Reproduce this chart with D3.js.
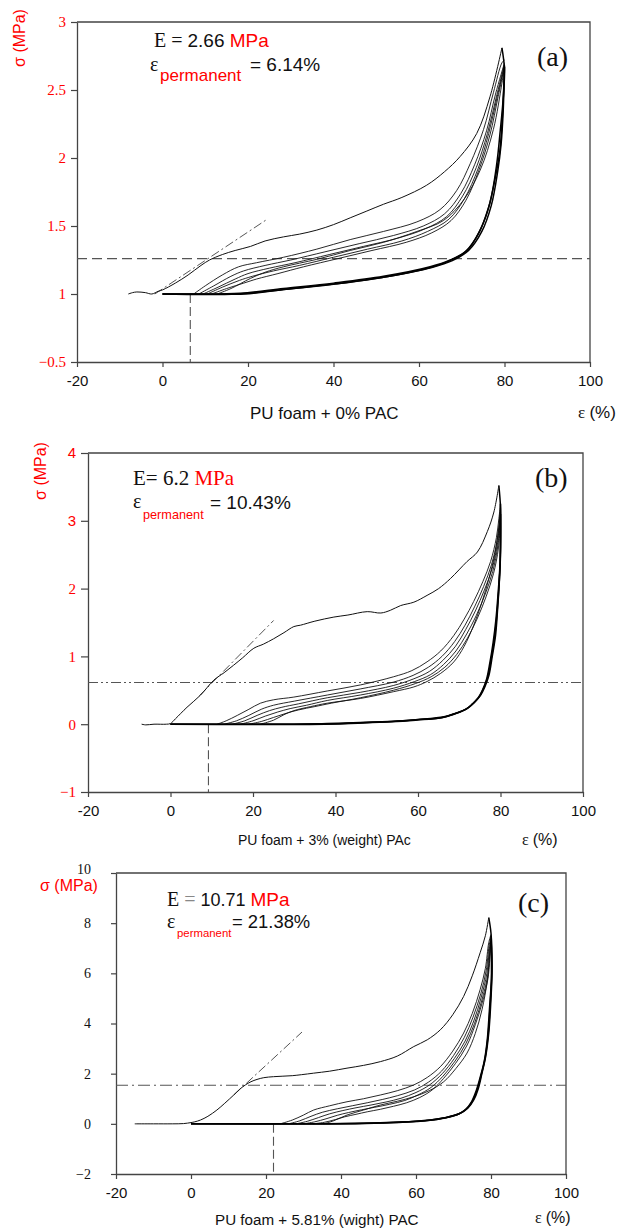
<!DOCTYPE html>
<html>
<head>
<meta charset="utf-8">
<script src="https://cdn.jsdelivr.net/npm/d3@7"></script>
<style>
body { margin: 0; background: #fff; }
svg { display: block; }
</style>
</head>
<body>
<div id="chart"></div>
<script>
let WIDTH = 628
let HEIGHT = 1228
let SERIF = '"Liberation Serif", "Times New Roman", serif'
let SANS = '"Liberation Sans", Arial, sans-serif'

// x ticks shared by all three panels
let xTicks = [-20, 0, 20, 40, 60, 80, 100]

// ---- panel (a): PU foam + 0% PAC ----
let aTicks = [0.5, 1, 1.5, 2, 2.5, 3]
let aTickLabels = ['\u22120.5', '1', '1.5', '2', '2.5', '3']
let aFirstLoad = [[-8,1.0],[-7,1.01],[-6,1.015],[-4,1.01],[-2.5,1.0],[-1,1.02],[0,1.03],[3,1.08],[6,1.14],[9,1.21],[11,1.25],[14,1.29],[17,1.32],[20.6,1.35],[24,1.39],[28.3,1.42],[32,1.44],[36.1,1.47],[40,1.51],[43.9,1.56],[47.8,1.61],[51.7,1.66],[56,1.71],[61.8,1.80],[66,1.90],[69.6,2.01],[73.5,2.18],[76.6,2.45],[79.4,2.81]]
let aReload = [
  [[7.3,1.0],[10,1.06],[14,1.14],[17.8,1.20],[22,1.23],[28.3,1.27],[36.1,1.33],[43.9,1.40],[51.7,1.46],[59.5,1.53],[64.9,1.62],[68.8,1.76],[72,1.96],[75.1,2.21],[77.4,2.48],[79.4,2.70],[80,2.72]],
  [[8.5,1.0],[12,1.06],[16,1.13],[19,1.17],[24,1.21],[30,1.25],[38,1.31],[46,1.37],[54,1.43],[61,1.50],[66,1.59],[69.8,1.74],[73,1.95],[75.8,2.2],[77.9,2.47],[80,2.70]],
  [[9.5,1.0],[13,1.05],[17,1.11],[20,1.15],[25,1.19],[31,1.23],[39,1.29],[47,1.35],[55,1.41],[61.5,1.48],[66.5,1.57],[70.2,1.72],[73.4,1.93],[76,2.18],[78.1,2.45],[80,2.69]],
  [[10.5,1.0],[14,1.05],[18,1.1],[21,1.13],[26,1.17],[32,1.21],[40,1.27],[48,1.33],[56,1.39],[62,1.46],[67,1.55],[70.6,1.70],[73.8,1.92],[76.3,2.18],[78.3,2.45],[80,2.68]],
  [[11.5,1.0],[15,1.04],[19,1.08],[22,1.11],[27,1.15],[33,1.20],[41,1.26],[49,1.32],[57,1.38],[63,1.45],[67.5,1.54],[71,1.69],[74,1.91],[76.6,2.17],[78.5,2.45],[80,2.68]],
  [[12.8,1.0],[16,1.04],[20.6,1.115],[24,1.16],[28.3,1.20],[36.1,1.255],[43.9,1.32],[51.7,1.38],[59.5,1.46],[65.7,1.54],[70.4,1.69],[74.3,1.91],[77.4,2.21],[79.4,2.55],[80,2.67]]
]
let aUnload = [
  [[79.4,2.81],[80,2.65],[79.6,2.4],[79,2.2],[78.2,1.96],[76.6,1.67],[74.3,1.47],[71.2,1.32],[67.3,1.25],[62.6,1.20],[51.7,1.13],[40,1.08],[28.3,1.04],[18.2,1.005],[7,1.0],[0,1.0]],
  [[80,2.68],[79.7,2.35],[79.2,2.1],[78.4,1.9],[76.9,1.65],[74.7,1.46],[71.6,1.32],[67.8,1.245],[63,1.195],[52,1.125],[40.5,1.075],[29,1.035],[19,1.0],[8,1.0],[0,1.0]],
  [[80,2.67],[79.5,2.3],[78.9,2.05],[78,1.88],[76.3,1.64],[74,1.45],[70.8,1.31],[66.8,1.24],[62,1.19],[51,1.12],[39.5,1.07],[27.5,1.03],[17.5,1.0],[0,1.0]]
]
let aLevel = 1.26
let aPermanent = 6.5
let aSlope = [[-1.8,1.0],[24.5,1.55]]

// ---- panel (b): PU foam + 3% (weight) PAc ----
let bTicks = [-1, 0, 1, 2, 3, 4]
let bTickLabels = ['\u22121', '0', '1', '2', '3', '4']
let bFirstLoad = [[-7,0],[-6,-0.01],[-4,0],[-1,0],[0,0.01],[1.2,0.08],[4,0.25],[7.3,0.43],[10.5,0.65],[13,0.76],[15.3,0.87],[17.5,0.98],[20.2,1.12],[22.5,1.18],[25,1.26],[27.5,1.35],[29.9,1.44],[31.5,1.46],[35,1.52],[39.6,1.58],[43,1.61],[47.7,1.66],[51,1.64],[53.3,1.68],[55.8,1.75],[59,1.8],[62.2,1.9],[65,2.0],[67.9,2.15],[71.9,2.40],[74.4,2.54],[76.8,2.84],[78.4,3.13],[79.6,3.52]]
let bReload = [
  [[11.3,0],[13.5,0.05],[16.2,0.13],[19,0.22],[21.8,0.31],[25,0.36],[29.9,0.40],[38,0.49],[46.1,0.58],[54.1,0.70],[58.5,0.79],[62.2,0.92],[65.5,1.08],[68.7,1.31],[71.2,1.55],[73.5,1.81],[75.7,2.10],[77.6,2.40],[79,2.75],[79.6,3.03],[80,3.25]],
  [[13,0],[16,0.05],[19,0.13],[22,0.22],[25,0.28],[30,0.34],[38,0.43],[46,0.52],[54,0.62],[58.8,0.72],[62.5,0.84],[65.8,1.0],[68.9,1.22],[71.4,1.46],[73.7,1.73],[75.9,2.03],[77.8,2.35],[79.2,2.72],[80,3.2]],
  [[15,0],[18,0.05],[21,0.13],[24,0.2],[27,0.25],[31,0.3],[38,0.39],[46,0.47],[54,0.57],[59,0.67],[62.8,0.78],[66,0.94],[69.1,1.15],[71.6,1.40],[73.9,1.67],[76.1,1.98],[78,2.30],[79.3,2.68],[80,3.15]],
  [[17,0],[20,0.05],[23,0.12],[26,0.18],[29,0.23],[33,0.28],[38,0.35],[46,0.43],[54,0.53],[59.2,0.63],[63,0.73],[66.2,0.88],[69.2,1.08],[71.8,1.33],[74.1,1.6],[76.3,1.92],[78.1,2.25],[79.4,2.65],[80,3.1]],
  [[19,0],[22,0.04],[25,0.1],[28,0.16],[31,0.21],[35,0.26],[39,0.31],[46,0.39],[54,0.5],[59.4,0.6],[63.2,0.7],[66.5,0.84],[69.4,1.03],[72,1.27],[74.3,1.55],[76.5,1.88],[78.3,2.22],[79.5,2.6],[80,3.08]],
  [[21.8,0],[25,0.06],[27.5,0.14],[29.9,0.2],[34,0.26],[38,0.31],[46.1,0.38],[54.1,0.48],[59,0.55],[62.2,0.63],[65.5,0.75],[68.7,0.92],[71.2,1.15],[73.5,1.46],[75.5,1.8],[77.2,2.15],[78.6,2.5],[79.6,2.89],[80,3.05]]
]
let bUnload = [
  [[79.6,3.52],[80,3.2],[80,2.6],[79.8,2.2],[79.3,1.7],[78.8,1.31],[78,1.0],[77.2,0.72],[76.2,0.55],[75.2,0.43],[73.5,0.31],[71.9,0.23],[69,0.16],[66.3,0.11],[60,0.07],[54.1,0.045],[46,0.025],[38,0.01],[30,0],[0,0]],
  [[80,3.25],[80,2.5],[79.7,2.1],[79.1,1.6],[78.5,1.25],[77.7,0.95],[76.9,0.69],[75.9,0.53],[74.9,0.41],[73.2,0.3],[71.6,0.22],[68.7,0.15],[66,0.1],[59.7,0.065],[53.8,0.04],[45.7,0.02],[37.7,0.005],[29.7,0],[0,0]],
  [[80,3.1],[79.9,2.4],[79.5,2.0],[78.9,1.55],[78.2,1.2],[77.4,0.9],[76.6,0.66],[75.6,0.5],[74.6,0.39],[72.9,0.28],[71.3,0.21],[68.4,0.14],[65.7,0.095],[59.4,0.06],[53.5,0.035],[45.4,0.015],[37.4,0],[0,0]]
]
let bLevel = 0.615
let bPermanent = 9.2
let bSlope = [[7,0.42],[25,1.53]]

// ---- panel (c): PU foam + 5.81% (wight) PAC ----
let cTicks = [-2, 0, 2, 4, 6, 8, 10]
let cTickLabels = ['\u22122', '0', '2', '4', '6', '8', '10']
let cFirstLoad = [[-15,0],[-10,0],[-5,0],[-2,0.01],[0,0.05],[1,0.08],[2.5,0.15],[4.5,0.3],[6.9,0.55],[9,0.82],[11.4,1.15],[13,1.38],[14.5,1.55],[16,1.68],[17.6,1.77],[19.4,1.84],[22,1.88],[24.5,1.9],[27,1.92],[29.5,1.96],[32.7,2.02],[37,2.1],[41.6,2.22],[46,2.33],[50.5,2.48],[55,2.7],[59.4,3.08],[63,3.35],[66.5,3.75],[69.8,4.35],[72.7,5.08],[75,5.9],[77.1,6.82],[78.5,7.5],[79.4,8.22]]
let cReload = [
  [[23.8,0],[27,0.15],[30,0.35],[32.7,0.55],[37,0.72],[41.6,0.88],[46,1.0],[50.5,1.15],[55,1.32],[59.4,1.55],[63,1.85],[66.5,2.28],[69.8,2.9],[72.7,3.62],[75,4.4],[77.1,5.35],[78.5,6.2],[79.4,7.22],[80,7.55]],
  [[26,0],[29,0.12],[32,0.3],[35,0.46],[39,0.6],[43,0.72],[47,0.84],[51,0.97],[55,1.12],[59.6,1.35],[63.3,1.66],[66.8,2.1],[70,2.72],[72.9,3.45],[75.2,4.25],[77.3,5.2],[78.7,6.1],[79.5,7.1],[80,7.45]],
  [[28,0],[31,0.1],[34,0.25],[37,0.4],[40.5,0.53],[44,0.64],[48,0.75],[52,0.87],[56,1.02],[60,1.25],[63.6,1.55],[67,2.0],[70.2,2.6],[73.1,3.3],[75.4,4.1],[77.4,5.05],[78.9,6.0],[79.6,7.0],[80,7.4]],
  [[30,0],[33,0.08],[36,0.2],[39,0.34],[42,0.45],[45.5,0.56],[49,0.66],[53,0.78],[57,0.93],[60.5,1.15],[64,1.45],[67.2,1.9],[70.4,2.5],[73.3,3.2],[75.6,4.0],[77.5,4.9],[79.1,5.9],[79.7,6.9],[80,7.3]],
  [[32.5,0],[35.5,0.06],[38.5,0.17],[41,0.28],[44,0.38],[47,0.48],[50.5,0.58],[54,0.7],[57.5,0.84],[61,1.05],[64.3,1.35],[67.3,1.8],[70.5,2.4],[73.5,3.1],[75.8,3.95],[77.6,4.8],[79.2,5.8],[79.8,6.9],[80,7.25]],
  [[35.4,0],[38,0.12],[41.6,0.35],[46,0.55],[50.5,0.75],[55,0.9],[59.4,1.08],[63.5,1.32],[67.4,1.68],[70.6,2.2],[73.6,2.82],[75.8,3.6],[77.6,4.55],[79,5.7],[79.8,6.95],[80,7.2]]
]
let cUnload = [
  [[79.4,8.22],[80,7.6],[80.3,6.28],[80,5.0],[79.4,3.62],[78.6,2.7],[77.6,2.02],[76.6,1.4],[75.4,0.95],[73.8,0.62],[71.8,0.42],[68,0.25],[63.8,0.15],[57,0.08],[50.5,0.04],[40,0.01],[30,0],[0,0]],
  [[80,7.5],[80.2,6.0],[79.8,4.8],[79.2,3.5],[78.4,2.6],[77.4,1.95],[76.3,1.35],[75.1,0.92],[73.5,0.6],[71.5,0.4],[67.7,0.24],[63.5,0.14],[56.7,0.07],[50.2,0.035],[39.7,0.005],[29.7,0],[0,0]],
  [[80,7.3],[80.1,5.8],[79.6,4.6],[79,3.35],[78.2,2.5],[77.1,1.85],[76,1.3],[74.8,0.88],[73.2,0.57],[71.2,0.38],[67.4,0.22],[63.2,0.13],[56.4,0.06],[49.9,0.03],[39.4,0],[0,0]]
]
let cLevel = 1.54
let cPermanent = 22
let cSlope = [[11.4,1.15],[29.6,3.66]]

let svg = d3.select('#chart')
    .append('svg')
    .attr('width', WIDTH)
    .attr('height', HEIGHT)

let drawPanel = function(p) {
    let x = d3.scaleLinear().domain([-20, 100]).range([p.left, p.right])
    let y = d3.scaleLinear().domain(p.yDomain).range([p.bottom, p.top])
    let g = svg.append('g')
    let line = d3.line()
        .x(d => x(d[0]))
        .y(d => y(d[1]))
        .curve(d3.curveCatmullRom.alpha(0.5))

    // top and right border of the frame
    g.append('path')
        .attr('d', `M${p.left},${p.top}H${p.right}V${p.bottom}`)
        .attr('fill', 'none')
        .attr('stroke', '#444')
        .attr('stroke-width', 1.3)

    // x axis
    let xAxis = g.append('g')
        .attr('transform', `translate(0,${p.bottom})`)
        .call(d3.axisBottom(x).tickValues(xTicks).tickSize(5).tickPadding(8).tickSizeOuter(0))
    xAxis.select('.domain').attr('stroke', '#444').attr('stroke-width', 1.3)
    xAxis.selectAll('.tick line').attr('stroke', '#444').attr('stroke-width', 1.2)
    xAxis.selectAll('text')
        .attr('font-family', SANS)
        .attr('font-size', 15)
        .attr('fill', '#111')
        .text(d => String(d))

    // y axis
    let yAxis = g.append('g')
        .attr('transform', `translate(${p.left},0)`)
        .call(d3.axisLeft(y).tickValues(p.yTicks).tickSize(p.yTickSize).tickPadding(p.yPad).tickSizeOuter(0)
            .tickFormat((d, i) => p.yLabels[i]))
    yAxis.select('.domain').attr('stroke', '#444').attr('stroke-width', 1.3)
    yAxis.selectAll('.tick line').attr('stroke', '#444').attr('stroke-width', 1.2)
    yAxis.selectAll('text')
        .attr('font-family', d => p.yFont(d))
        .attr('font-size', p.yFontSize)
        .attr('fill', p.yColor)
        .attr('dy', d => d === p.yDomain[1] ? p.topLabelDy : '0.32em')

    // guide lines
    g.append('line')
        .attr('x1', p.left).attr('x2', p.right)
        .attr('y1', y(p.level)).attr('y2', y(p.level))
        .attr('stroke', '#555').attr('stroke-width', 1.1)
        .attr('stroke-dasharray', p.levelDash)
    g.append('line')
        .attr('x1', x(p.permanent)).attr('x2', x(p.permanent))
        .attr('y1', y(p.base)).attr('y2', p.bottom)
        .attr('stroke', '#555').attr('stroke-width', 1.1)
        .attr('stroke-dasharray', '9,4')
    g.append('path')
        .attr('d', d3.line().x(d => x(d[0])).y(d => y(d[1]))(p.slope))
        .attr('stroke', '#555').attr('stroke-width', 1)
        .attr('stroke-dasharray', '9,3,2,3')

    // curves
    g.selectAll('.reload')
        .data(p.reload)
        .join('path')
        .attr('d', line)
        .attr('fill', 'none')
        .attr('stroke', '#111')
        .attr('stroke-width', 0.9)
    g.selectAll('.unload')
        .data(p.unload)
        .join('path')
        .attr('d', line)
        .attr('fill', 'none')
        .attr('stroke', '#000')
        .attr('stroke-width', 1.5)
    g.append('path')
        .attr('d', line(p.first))
        .attr('fill', 'none')
        .attr('stroke', '#111')
        .attr('stroke-width', 1)
}

drawPanel({left: 77, right: 590, top: 22, bottom: 362, yDomain: [0.5, 3],
    yTicks: aTicks, yLabels: aTickLabels, yTickSize: 6, yPad: 5, yColor: 'red', yFont: d => SERIF,
    yFontSize: 15, topLabelDy: '0.32em',
    first: aFirstLoad, reload: aReload, unload: aUnload,
    level: aLevel, levelDash: '10,5', permanent: aPermanent, base: 1, slope: aSlope})
drawPanel({left: 88, right: 583, top: 453, bottom: 792, yDomain: [-1, 4],
    yTicks: bTicks, yLabels: bTickLabels, yTickSize: 7, yPad: 5, yColor: 'red', yFont: d => d >= 3 ? SANS : SERIF,
    yFontSize: 15, topLabelDy: '0.32em',
    first: bFirstLoad, reload: bReload, unload: bUnload,
    level: bLevel, levelDash: '10,3,2,3,2,3', permanent: bPermanent, base: 0, slope: bSlope})
drawPanel({left: 116, right: 566, top: 873, bottom: 1174, yDomain: [-2, 10],
    yTicks: cTicks, yLabels: cTickLabels, yTickSize: 5, yPad: 20, yColor: '#111', yFont: d => SERIF,
    yFontSize: 14, topLabelDy: '0.05em',
    first: cFirstLoad, reload: cReload, unload: cUnload,
    level: cLevel, levelDash: '12,4,2,4', permanent: cPermanent, base: 0, slope: cSlope})

// ---- text ----
let txt = function(x, y, size, family, fill) {
    return svg.append('text').attr('x', x).attr('y', y)
        .attr('font-size', size).attr('font-family', family).attr('fill', fill)
}

// y axis titles
txt(0, 0, 16, SANS, 'red').attr('transform', 'translate(25,38) rotate(-90)')
    .attr('text-anchor', 'middle').text('\u03c3 (MPa)')
txt(0, 0, 16, SANS, 'red').attr('transform', 'translate(46,471) rotate(-90)')
    .attr('text-anchor', 'middle').text('\u03c3 (MPa)')
txt(40, 891, 16, SANS, 'red').text('\u03c3 (MPa)')

// panel letters
txt(537, 66, 28, SERIF, '#111').text('(a)')
txt(535, 487, 28, SERIF, '#111').text('(b)')
txt(518, 912, 28, SERIF, '#111').text('(c)')

// E / permanent strain annotations
let t = txt(154, 47, 20, SERIF, '#111')
t.append('tspan').text('E = ')
t.append('tspan').attr('font-family', SANS).attr('font-size', 19).text('2.66 ')
t.append('tspan').attr('font-family', SANS).attr('font-size', 19).attr('fill', 'red').text('MPa')
txt(150, 71, 20, SERIF, '#111').text('\u03b5')
txt(160, 81, 17, SANS, 'red').text('permanent')
txt(250, 71, 19, SANS, '#111').text('= 6.14%')

t = txt(133, 485, 21, SERIF, '#111')
t.append('tspan').text('E= 6.2 ')
t.append('tspan').attr('fill', 'red').text('MPa')
txt(133, 508, 20, SERIF, '#111').text('\u03b5')
txt(143, 519, 12.7, SANS, 'red').text('permanent')
txt(210, 509, 19, SANS, '#111').text('= 10.43%')

t = txt(167, 906, 20, SERIF, '#111')
t.append('tspan').text('E ')
t.append('tspan').attr('fill', '#888').text('= ')
t.append('tspan').attr('font-family', SANS).attr('font-size', 18).text('10.71 ')
t.append('tspan').attr('font-family', SANS).attr('font-size', 19).attr('fill', 'red').text('MPa')
txt(167, 928, 20, SERIF, '#111').text('\u03b5')
txt(177, 937, 11.4, SANS, 'red').text('permanent')
txt(232, 928, 18.4, SANS, '#111').text('= 21.38%')

// x axis captions
txt(250, 419, 17, SANS, '#111').text('PU foam + 0% PAC')
t = txt(578, 418, 17, SERIF, '#111')
t.append('tspan').text('\u03b5 ')
t.append('tspan').attr('font-family', SANS).text('(%)')

txt(238, 845, 14, SANS, '#111').text('PU foam + 3% (weight) PAc')
t = txt(522, 845, 16, SERIF, '#111')
t.append('tspan').text('\u03b5 ')
t.append('tspan').attr('font-family', SANS).text('(%)')

txt(215, 1225, 15.2, SANS, '#111').text('PU foam + 5.81% (wight) PAC')
t = txt(535, 1223, 16, SERIF, '#111')
t.append('tspan').text('\u03b5 ')
t.append('tspan').attr('font-family', SANS).text('(%)')
</script>
</body>
</html>
